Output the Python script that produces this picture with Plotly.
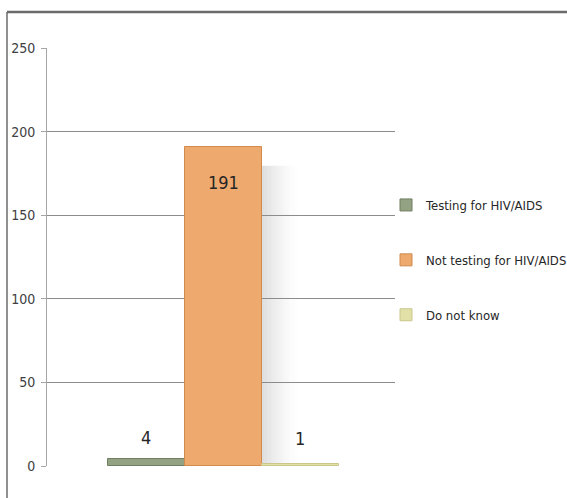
import plotly.graph_objects as go

# Responses to the question on HIV/AIDS testing
categories = ["Testing for HIV/AIDS", "Not testing for HIV/AIDS", "Do not know"]
counts = [4, 191, 1]
colors = ["#93a283", "#eeaa6e", "#e2e0a6"]
edge_colors = ["#6f7d60", "#cf8a4c", "#c9c78c"]
y_ticks = [0, 50, 100, 150, 200, 250]

FONT = "DejaVu Sans Condensed, Liberation Sans Narrow, sans-serif"
W, H = 567, 498
L, R, T, B = 47, 172, 48, 32
pw, ph = W - L - R, H - T - B
ymax = y_ticks[-1]
px_per_unit = ph / ymax

fig = go.Figure()
for i, (name, val) in enumerate(zip(categories, counts)):
    fig.add_trace(go.Bar(
        x=[i], y=[val], name=name, width=1.0,
        marker=dict(color=colors[i], line=dict(color=edge_colors[i], width=1)),
        legendgroup=name, hoverinfo="name+y",
    ))

# value labels: inside the top of tall bars; short bars share one row above the base
for i, val in enumerate(counts):
    big = val > ymax * 0.3
    fig.add_annotation(
        x=i, y=val, xref="x", yref="y", text=str(val), showarrow=False,
        yanchor="middle", yshift=-36 if big else 28 - val * px_per_unit,
        font=dict(family=FONT, size=18, color="#262626"),
    )

# soft grey shadow to the right of the tallest bar
imax = counts.index(max(counts))
steps = 14
for k in range(steps):
    fig.add_shape(
        type="rect", xref="x", yref="y", layer="below",
        x0=imax + 0.5 + k * 0.035, x1=imax + 0.5 + (k + 1) * 0.035,
        y0=0, y1=counts[imax] * 0.94,
        fillcolor="#9a9a9a", opacity=0.32 * (1 - k / steps) ** 1.6, line_width=0,
    )

# outer frame lines (top and left)
fx = (7 - L) / pw
fy = (H - B - 12) / ph
fig.add_shape(type="line", xref="paper", yref="paper", x0=fx, x1=(W - L) / pw + 0.05,
              y0=fy, y1=fy, line=dict(color="#6b6b6b", width=2.5))
fig.add_shape(type="line", xref="paper", yref="paper", x0=fx, x1=fx,
              y0=fy, y1=-0.2, line=dict(color="#6b6b6b", width=1.5))

fig.update_layout(
    width=W, height=H,
    margin=dict(l=L, r=R, t=T, b=B, autoexpand=False),
    paper_bgcolor="white", plot_bgcolor="white",
    barmode="overlay", bargap=0,
    font=dict(family=FONT, size=14, color="#404040"),
    showlegend=True,
    legend=dict(
        xref="container", yref="container",
        x=386 / W, y=1 - 190 / H, xanchor="left", yanchor="top",
        font=dict(family=FONT, size=13, color="#262626"),
        traceorder="grouped", tracegroupgap=35,
        itemwidth=30, bgcolor="rgba(0,0,0,0)",
    ),
    xaxis=dict(range=[-1.29, 3.23], showticklabels=False, showgrid=False,
               zeroline=False, showline=False, ticks=""),
    yaxis=dict(range=[0, ymax], tickvals=y_ticks, showgrid=True, gridcolor="#8c8c8c",
               gridwidth=1, zeroline=False, showline=True, linecolor="#a6a6a6",
               ticks="outside", ticklen=5, tickcolor="#a6a6a6", ticklabelstandoff=3,
               tickfont=dict(family=FONT, size=14, color="#404040")),
)

fig.write_html("out.html")
